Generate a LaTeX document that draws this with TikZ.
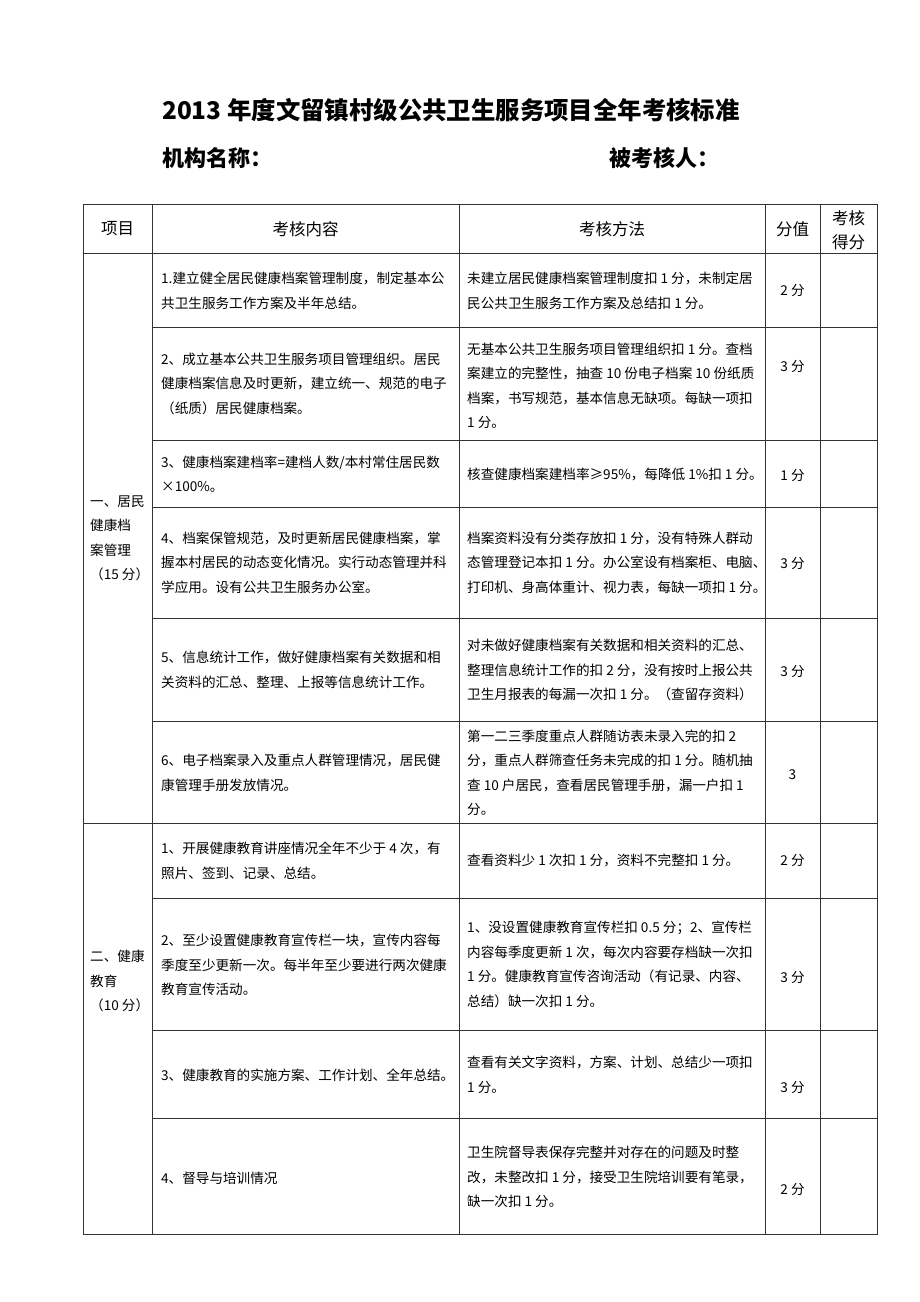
\documentclass[tikz,border=0pt]{standalone}
\usepackage{fontspec}
\setmainfont{Noto Sans CJK SC}
\begin{document}
\begin{tikzpicture}[x=1pt,y=-1pt,
  grid/.style={line width=0.8pt, draw=black!80},
  body/.style={font=\fontsize{13.6}{24.5}\selectfont, align=left, inner sep=0pt, anchor=west},
  pts/.style={font=\fontsize{13.6}{24.5}\selectfont, inner sep=0pt, anchor=center},
  head/.style={font=\fontsize{16.5}{24.5}\selectfont, align=center, inner sep=0pt},
  ttl/.style={font=\bfseries\fontsize{24.4}{28}\selectfont, inner sep=0pt, anchor=west},
  sub/.style={font=\bfseries\fontsize{22}{26}\selectfont, inner sep=0pt, anchor=west}
]
\useasboundingbox[fill=white] (0,0) rectangle (920,1302);

% title
\node[ttl] (title) at (162,110) {2013 年度文留镇村级公共卫生服务项目全年考核标准};
\node[sub] (org) at (162,158) {机构名称：};
\node[sub] (who) at (609,158) {被考核人：};

% grid
\draw[grid] (83,204) rectangle (877,1234);
\foreach \x in {152,459,765,820} \draw[grid] (\x,204) -- (\x,1234);
\foreach \y in {253,823} \draw[grid] (83,\y) -- (877,\y);
\foreach \y in {327,440,507,618,721,898,1030,1118} \draw[grid] (152,\y) -- (877,\y);

% header
\node[head] (h1) at (117.5,229) {项目};
\node[head] (h2) at (305.5,229) {考核内容};
\node[head] (h3) at (612,229) {考核方法};
\node[head] (h4) at (792.5,229) {分值};
\node[head] (h5) at (848.5,230) {考核\\得分};

% section labels
\node[body] (s1) at (90,538.5) {一、居民\\健康档\\案管理\\（15 分）};
\node[body] (s2) at (90,981) {二、健康\\教育\\（10 分）};

% section 1
\node[body] (c11) at (161,291) {1.建立健全居民健康档案管理制度，制定基本公\\共卫生服务工作方案及半年总结。};
\node[body] (m11) at (467,291) {未建立居民健康档案管理制度扣 1 分，未制定居\\民公共卫生服务工作方案及总结扣 1 分。};
\node[pts] (p11) at (792.5,290) {2 分};

\node[body] (c12) at (161,383.5) {2、成立基本公共卫生服务项目管理组织。居民\\健康档案信息及时更新，建立统一、规范的电子\\（纸质）居民健康档案。};
\node[body] (m12) at (467,386) {无基本公共卫生服务项目管理组织扣 1 分。查档\\案建立的完整性，抽查 10 份电子档案 10 份纸质\\档案，书写规范，基本信息无缺项。每缺一项扣\\1 分。};
\node[pts] (p12) at (792.5,366) {3 分};

\node[body] (c13) at (161,474) {3、健康档案建档率=建档人数/本村常住居民数\\×100\%。};
\node[body] (m13) at (467,474) {核查健康档案建档率≥95\%，每降低 1\%扣 1 分。};
\node[pts] (p13) at (792.5,475) {1 分};

\node[body] (c14) at (161,562.5) {4、档案保管规范，及时更新居民健康档案，掌\\握本村居民的动态变化情况。实行动态管理并科\\学应用。设有公共卫生服务办公室。};
\node[body] (m14) at (467,562.5) {档案资料没有分类存放扣 1 分，没有特殊人群动\\态管理登记本扣 1 分。办公室设有档案柜、电脑、\\打印机、身高体重计、视力表，每缺一项扣 1 分。};
\node[pts] (p14) at (792.5,563) {3 分};

\node[body] (c15) at (161,670) {5、信息统计工作，做好健康档案有关数据和相\\关资料的汇总、整理、上报等信息统计工作。};
\node[body] (m15) at (467,670) {对未做好健康档案有关数据和相关资料的汇总、\\整理信息统计工作的扣 2 分，没有按时上报公共\\卫生月报表的每漏一次扣 1 分。（查留存资料）};
\node[pts] (p15) at (792.5,671) {3 分};

\node[body] (c16) at (161,773) {6、电子档案录入及重点人群管理情况，居民健\\康管理手册发放情况。};
\node[body] (m16) at (467,773) {第一二三季度重点人群随访表未录入完的扣 2\\分，重点人群筛查任务未完成的扣 1 分。随机抽\\查 10 户居民，查看居民管理手册，漏一户扣 1\\分。};
\node[pts] (p16) at (792.5,775) {3};

% section 2
\node[body] (c21) at (161,861) {1、开展健康教育讲座情况全年不少于 4 次，有\\照片、签到、记录、总结。};
\node[body] (m21) at (467,860) {查看资料少 1 次扣 1 分，资料不完整扣 1 分。};
\node[pts] (p21) at (792.5,860) {2 分};

\node[body] (c22) at (161,965) {2、至少设置健康教育宣传栏一块，宣传内容每\\季度至少更新一次。每半年至少要进行两次健康\\教育宣传活动。};
\node[body] (m22) at (467,964.5) {1、没设置健康教育宣传栏扣 0.5 分；2、宣传栏\\内容每季度更新 1 次，每次内容要存档缺一次扣\\1 分。健康教育宣传咨询活动（有记录、内容、\\总结）缺一次扣 1 分。};
\node[pts] (p22) at (792.5,977) {3 分};

\node[body] (c23) at (161,1075) {3、健康教育的实施方案、工作计划、全年总结。};
\node[body] (m23) at (467,1075) {查看有关文字资料，方案、计划、总结少一项扣\\1 分。};
\node[pts] (p23) at (792.5,1087) {3 分};

\node[body] (c24) at (161,1178) {4、督导与培训情况};
\node[body] (m24) at (467,1177) {卫生院督导表保存完整并对存在的问题及时整\\改，未整改扣 1 分，接受卫生院培训要有笔录，\\缺一次扣 1 分。};
\node[pts] (p24) at (792.5,1189) {2 分};
\end{tikzpicture}
\end{document}
